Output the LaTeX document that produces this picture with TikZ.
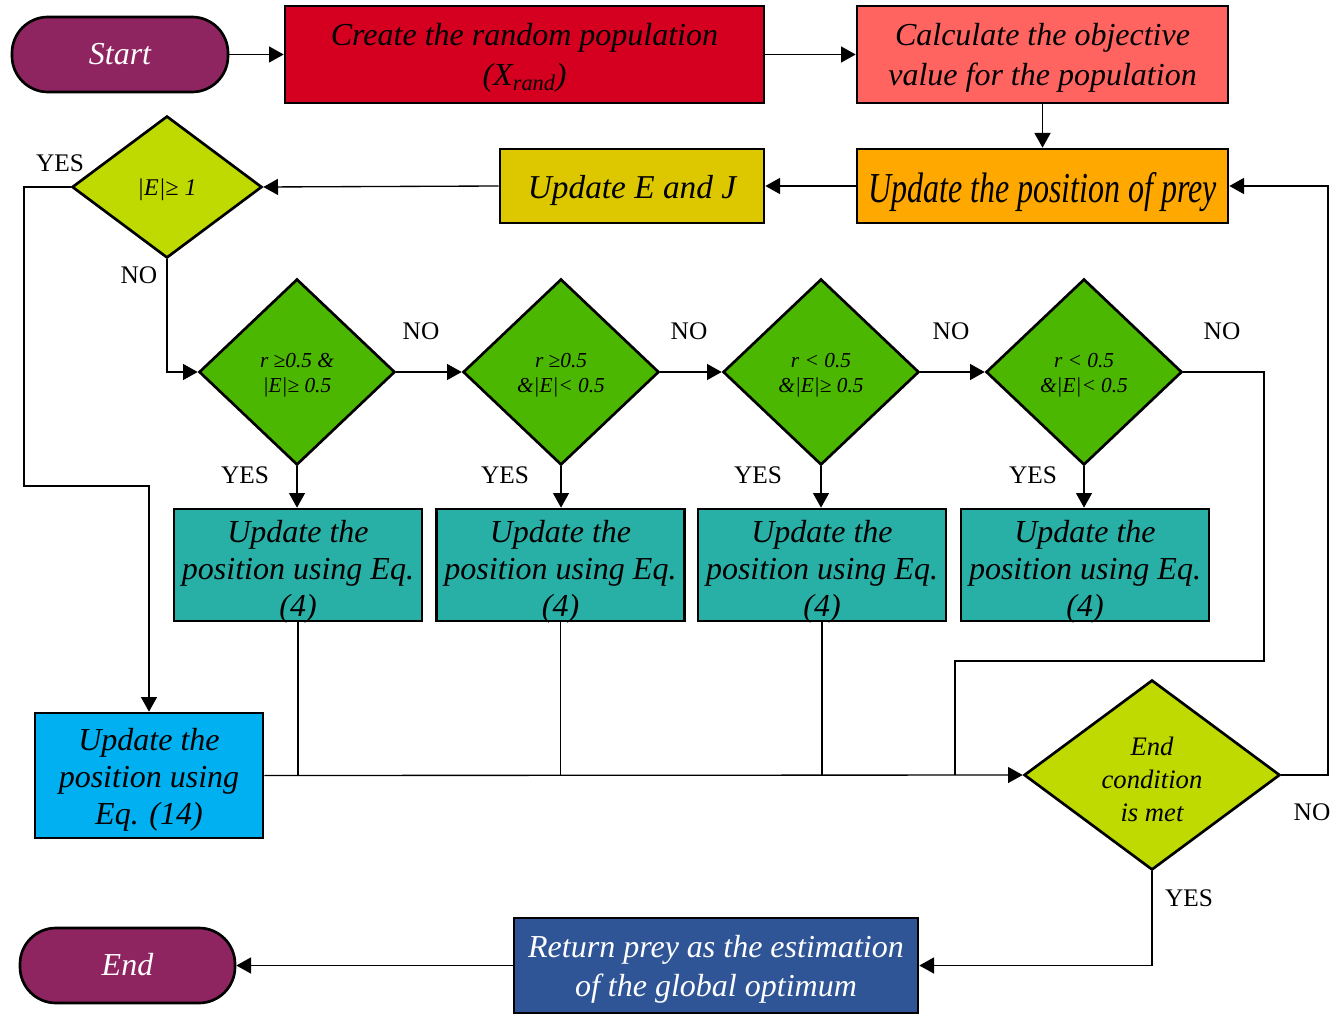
\documentclass[tikz,border=0pt]{standalone}
\usepackage{fontspec}
\setmainfont{Liberation Serif}
\newfontfamily\condfont{Liberation Serif}[FakeStretch=0.75]
\usetikzlibrary{shapes.geometric,arrows.meta}
\definecolor{cpurple}{RGB}{142,37,97}
\definecolor{cred}{RGB}{213,0,32}
\definecolor{csalmon}{RGB}{255,100,97}
\definecolor{corange}{RGB}{255,168,0}
\definecolor{cmustard}{RGB}{221,200,0}
\definecolor{clime}{RGB}{190,218,0}
\definecolor{cgreen}{RGB}{76,183,0}
\definecolor{cteal}{RGB}{41,176,166}
\definecolor{csky}{RGB}{0,176,240}
\definecolor{cnavy}{RGB}{47,85,151}
\newcommand\txl[2]{\raisebox{-#1}[\height][\depth]{\begin{tabular}{@{}c@{}}#2\end{tabular}}}
\tikzset{
  box/.style={draw=black,line width=2pt,rectangle,inner sep=0pt,
    font=\itshape\fontsize{24}{28}\selectfont},
  pill/.style={box,rounded corners=27pt,fill=cpurple,text=white},
  dia/.style={draw=black,line width=2pt,diamond,inner sep=0pt},
  arr/.style={line width=1pt,-{Triangle[length=11pt,width=12pt]}},
  ln/.style={line width=1pt},
  lab/.style={font=\fontsize{19}{22}\selectfont,inner sep=0pt}
}
\begin{document}
\begin{tikzpicture}[x=0.75pt,y=-0.75pt]
\useasboundingbox (0,0) rectangle (1337,1023);
% nodes
\node[pill,minimum width=162pt,minimum height=56.25pt,font=\itshape\fontsize{24}{28.8}\selectfont] (start) at (120,54.5) {\txl{2.1pt}{Start}};
\node[box,fill=cred,minimum width=359.25pt,minimum height=72.75pt,font=\itshape\fontsize{24}{30}\selectfont] (create) at (524.5,54.5) {\txl{1.9pt}{Create the random population\\(X\textsubscript{rand})}};
\node[box,fill=csalmon,minimum width=278.25pt,minimum height=72.75pt,font=\itshape\fontsize{24}{30}\selectfont] (calc) at (1042.5,54.5) {\txl{1.9pt}{Calculate the objective\\value for the population}};
\node[box,fill=corange,minimum width=278.25pt,minimum height=55.5pt,font=\condfont\itshape\fontsize{32}{38.4}\selectfont] (prey) at (1042.5,186) {\txl{5pt}{Update the position of prey}};
\node[box,fill=cmustard,minimum width=198pt,minimum height=55.5pt,font=\itshape\fontsize{25}{30}\selectfont] (ej) at (632,186) {\txl{3.5pt}{Update E and J}};
\node[dia,fill=clime,minimum width=142.5pt,minimum height=106.5pt,font=\itshape\fontsize{18}{21.6}\selectfont] (dE) at (167,187) {\txl{2pt}{|E|≥ 1}};
\tikzset{gd/.style={dia,fill=cgreen,minimum width=147pt,minimum height=139.5pt,font=\itshape\fontsize{16}{18.75}\selectfont}}
\node[gd] (d1) at (297,372) {\txl{1.9pt}{r ≥0.5 \&\\|E|≥ 0.5}};
\node[gd] (d2) at (561,372) {\txl{1.9pt}{r ≥0.5\\\&|E|< 0.5}};
\node[gd] (d3) at (821,372) {\txl{1.9pt}{r < 0.5\\\&|E|≥ 0.5}};
\node[gd] (d4) at (1084,372) {\txl{1.9pt}{r < 0.5\\\&|E|< 0.5}};
\tikzset{ub/.style={box,fill=cteal,minimum width=186pt,minimum height=84pt}}
\node[ub] (u1) at (298,565) {\txl{5.2pt}{Update the\\position using Eq.\\(4)}};
\node[ub] (u2) at (560.5,565) {\txl{5.2pt}{Update the\\position using Eq.\\(4)}};
\node[ub] (u3) at (822,565) {\txl{5.2pt}{Update the\\position using Eq.\\(4)}};
\node[ub] (u4) at (1085,565) {\txl{5.2pt}{Update the\\position using Eq.\\(4)}};
\node[box,fill=csky,minimum width=171pt,minimum height=93.75pt] (u14) at (149,775.5) {\txl{3.3pt}{Update the\\position using\\Eq. (14)}};
\node[dia,fill=clime,shape aspect=1.35,minimum width=192pt,minimum height=142.5pt,font=\itshape\fontsize{20}{25}\selectfont] (dEnd) at (1152,775) {\txl{5pt}{End\\condition\\is met}};
\node[box,fill=cnavy,text=white,minimum width=303pt,minimum height=71.25pt,font=\itshape\fontsize{24}{29}\selectfont] (ret) at (716,965.5) {\txl{3pt}{Return prey as the estimation\\of the global optimum}};
\node[pill,minimum width=161.25pt,minimum height=56.25pt,font=\itshape\fontsize{24}{28.8}\selectfont] (endn) at (127.5,965.5) {\txl{2.1pt}{End}};
% helper coordinates
\coordinate (c1) at (24,486);
\coordinate (c2) at (1264,661);
\coordinate (c3) at (955,775);
\coordinate (c4) at (1328,186);
% connectors
\draw[arr] (start) -- (create);
\draw[arr] (create) -- (calc);
\draw[arr] (calc) -- (prey);
\draw[arr] (prey) -- (ej);
\draw[arr] (ej.west) -- (dE.east);
\draw[arr] (dE.west) -| (c1) -| (u14.north);
\draw[arr] (dE.south) |- (d1.west);
\draw[arr] (d1.east) -- (d2.west);
\draw[arr] (d2.east) -- (d3.west);
\draw[arr] (d3.east) -- (d4.west);
\draw[ln] (d4.east) -| (c2) -| (c3);
\draw[arr] (d1.south) -- (d1.south |- u1.north);
\draw[arr] (d2.south) -- (d2.south |- u2.north);
\draw[arr] (d3.south) -- (d3.south |- u3.north);
\draw[arr] (d4.south) -- (d4.south |- u4.north);
\draw[ln] (u1.south) -- (u1.south |- dEnd.west);
\draw[ln] (u2.south) -- (u2.south |- dEnd.west);
\draw[ln] (u3.south) -- (u3.south |- dEnd.west);
\draw[arr] (u14.east) -- (dEnd.west);
\draw[arr] (dEnd.east) -| (c4) -- (prey.east);
\draw[arr] (dEnd.south) |- (ret.east);
\draw[arr] (ret.west) -- (endn.east);
% labels
\node[lab] (l1) at (60,163) {YES};
\node[lab] (l2) at (139,275) {NO};
\node[lab] (l3) at (421,331) {NO};
\node[lab] (l4) at (689,331) {NO};
\node[lab] (l5) at (951,331) {NO};
\node[lab] (l6) at (1222,331) {NO};
\node[lab] (l7) at (245,475) {YES};
\node[lab] (l8) at (505,475) {YES};
\node[lab] (l9) at (758,475) {YES};
\node[lab] (l10) at (1033,475) {YES};
\node[lab] (l11) at (1312,812) {NO};
\node[lab] (l12) at (1189,898) {YES};
\end{tikzpicture}
\end{document}
